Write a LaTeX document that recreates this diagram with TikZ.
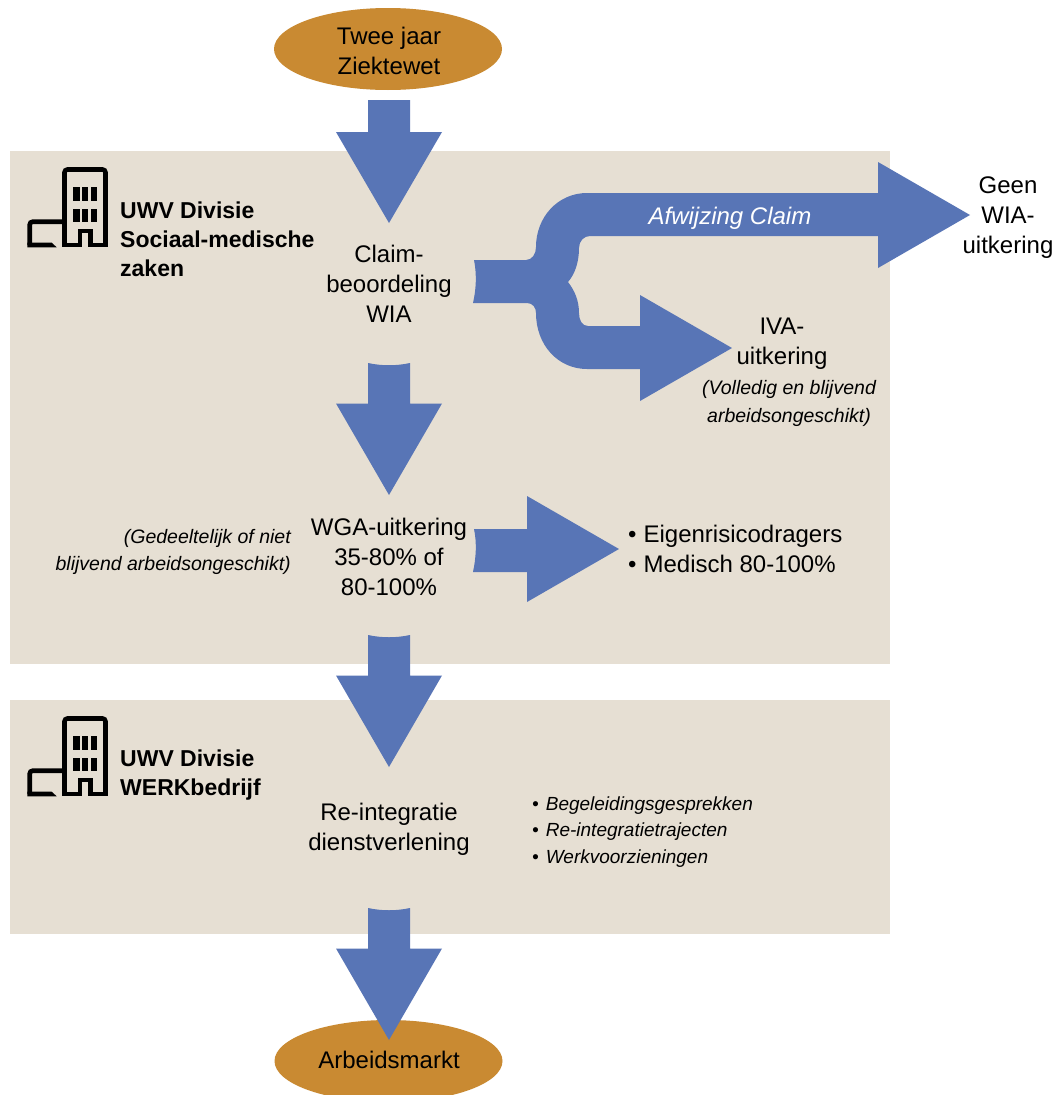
\documentclass[tikz,border=0pt]{standalone}
\usepackage{fontspec}
\setmainfont{Liberation Sans}
\usetikzlibrary{shapes.geometric}
\definecolor{panelc}{HTML}{E6DFD3}
\definecolor{arrowc}{HTML}{5875B6}
\definecolor{ovalc}{HTML}{C98A32}
\tikzset{
 panel/.style={fill=panelc,draw=none},
 blue/.style={fill=arrowc,draw=none},
 oval/.style={ellipse,fill=ovalc,draw=none,minimum width=228pt,minimum height=82pt,inner sep=0pt},
 main/.style={font=\fontsize{24}{30}\selectfont,align=center,text=black,inner sep=0pt},
 hdr/.style={font=\fontsize{23}{29}\selectfont\bfseries,align=left,anchor=west,inner sep=0pt},
 note/.style={font=\fontsize{19.5}{27.5}\selectfont\itshape,inner sep=0pt},
 iconline/.style={line width=4.6pt,draw=black,fill=none,line join=miter},
 iconwin/.style={fill=black,draw=none}
}
\newcommand{\downarrowshape}[1]{%
 \fill[blue] (368,#1) .. controls (382,#1+3) and (396,#1+3) .. (410,#1) -- (410,#1+40.5) -- (442,#1+40.5) -- (389,#1+132) -- (336,#1+40.5) -- (368,#1+40.5) -- cycle;}
\newcommand{\bldg}[1]{%
 \begin{scope}[shift={(0,#1)}]
 \draw[iconline,rounded corners=3pt] (64.5,245) -- (64.5,169.5) -- (105.5,169.5) -- (105.5,245);
 \draw[iconline] (62.2,245) -- (79.8,245) -- (79.8,230.8) -- (90.2,230.8) -- (90.2,245) -- (107.8,245);
 \draw[iconline,rounded corners=3pt] (64.5,221.7) -- (29.7,221.7) -- (29.7,245);
 \fill[black] (27.4,242.7) -- (51.7,242.7) -- (56.7,247.3) -- (27.4,247.3) -- cycle;
 \foreach \yy in {187.3,209}{\foreach \xx in {73.3,81.7,90.7}{\fill[iconwin] (\xx,\yy) rectangle (\xx+6.2,\yy+13.4);}}
 \end{scope}}
\begin{document}
\begin{tikzpicture}[x=1pt,y=-1pt]
\useasboundingbox (0,0) rectangle (1056,1095);
\clip (0,0) rectangle (1056,1095);
\fill[white] (0,0) rectangle (1056,1095);
\fill[panel] (10,151) rectangle (890,664);
\fill[panel] (10,700) rectangle (890,934);
\node[oval] (top) at (388,49) {};
\node[oval] (bottom) at (388.5,1061) {};
\fill[blue] (368,100) -- (410,100) -- (410,132) -- (442,132) -- (389,223) -- (336,132) -- (368,132) -- cycle;
\downarrowshape{363}
\downarrowshape{635}
\downarrowshape{908}
% fork
\fill[blue] (474,260) -- (526,260) .. controls (532,260) and (536,254) .. (536,247)
 .. controls (536,217) and (558,193) .. (587,193) -- (878,193) -- (878,162) -- (970,215) -- (878,268) -- (878,236) -- (590,236)
 .. controls (584,236) and (579,241) .. (579,248) .. controls (579,262) and (575,274) .. (568,282)
 .. controls (575,291) and (579,301) .. (579,313) .. controls (579,320) and (582,326) .. (588,326)
 -- (640,326) -- (640,295) -- (732,348) -- (640,401) -- (640,369) -- (587,369)
 .. controls (558,369) and (536,345) .. (536,313) .. controls (536,308) and (533,303) .. (527,303)
 -- (473,303) .. controls (476,290) and (477,275) .. (474,260) -- cycle;
% WGA arrow
\fill[blue] (474,529) -- (527,529) -- (527,496) -- (619,549) -- (527,602) -- (527,572) -- (473,572) .. controls (476,558) and (477,543) .. (474,529) -- cycle;
\bldg{0}
\bldg{549}
\node[main] (t1) at (389,50.5) {Twee jaar\\Ziektewet};
\node[main] (t2) at (389,284) {Claim-\\beoordeling\\WIA};
\node[main] (t3) at (389,557) {WGA-uitkering\\35-80\% of\\80-100\%};
\node[main] (t4) at (389,829.5) {Re-integratie\\dienstverlening};
\node[main] (t5) at (389,1060) {Arbeidsmarkt};
\node[main] (t6) at (1008,218) {Geen\\WIA-\\uitkering};
\node[main] (t7) at (782,344) {IVA-\\uitkering};
\node[note,align=center] (t8) at (789,403.5) {(Volledig en blijvend\\arbeidsongeschikt)};
\node[note,align=right,anchor=east] (t9) at (291,552) {(Gedeeltelijk of niet\\blijvend arbeidsongeschikt)};
\node[font=\fontsize{24}{30}\selectfont\itshape,text=white,inner sep=0pt] (t10) at (730,218) {Afwijzing Claim};
\node[hdr] (h1) at (120,239) {UWV Divisie\\Sociaal-medische\\zaken};
\node[hdr] (h2) at (120,775) {UWV Divisie\\WERKbedrijf};
\node[main,align=left,anchor=west] (l1) at (628,549) {•\hspace{7pt}Eigenrisicodragers\\•\hspace{7pt}Medisch 80-100\%};
\node[note,align=left,anchor=west,font=\fontsize{19}{26.5}\selectfont\itshape] (l2) at (532,832) {•\hspace{7pt}Begeleidingsgesprekken\\•\hspace{7pt}Re-integratietrajecten\\•\hspace{7pt}Werkvoorzieningen};
\end{tikzpicture}
\end{document}
